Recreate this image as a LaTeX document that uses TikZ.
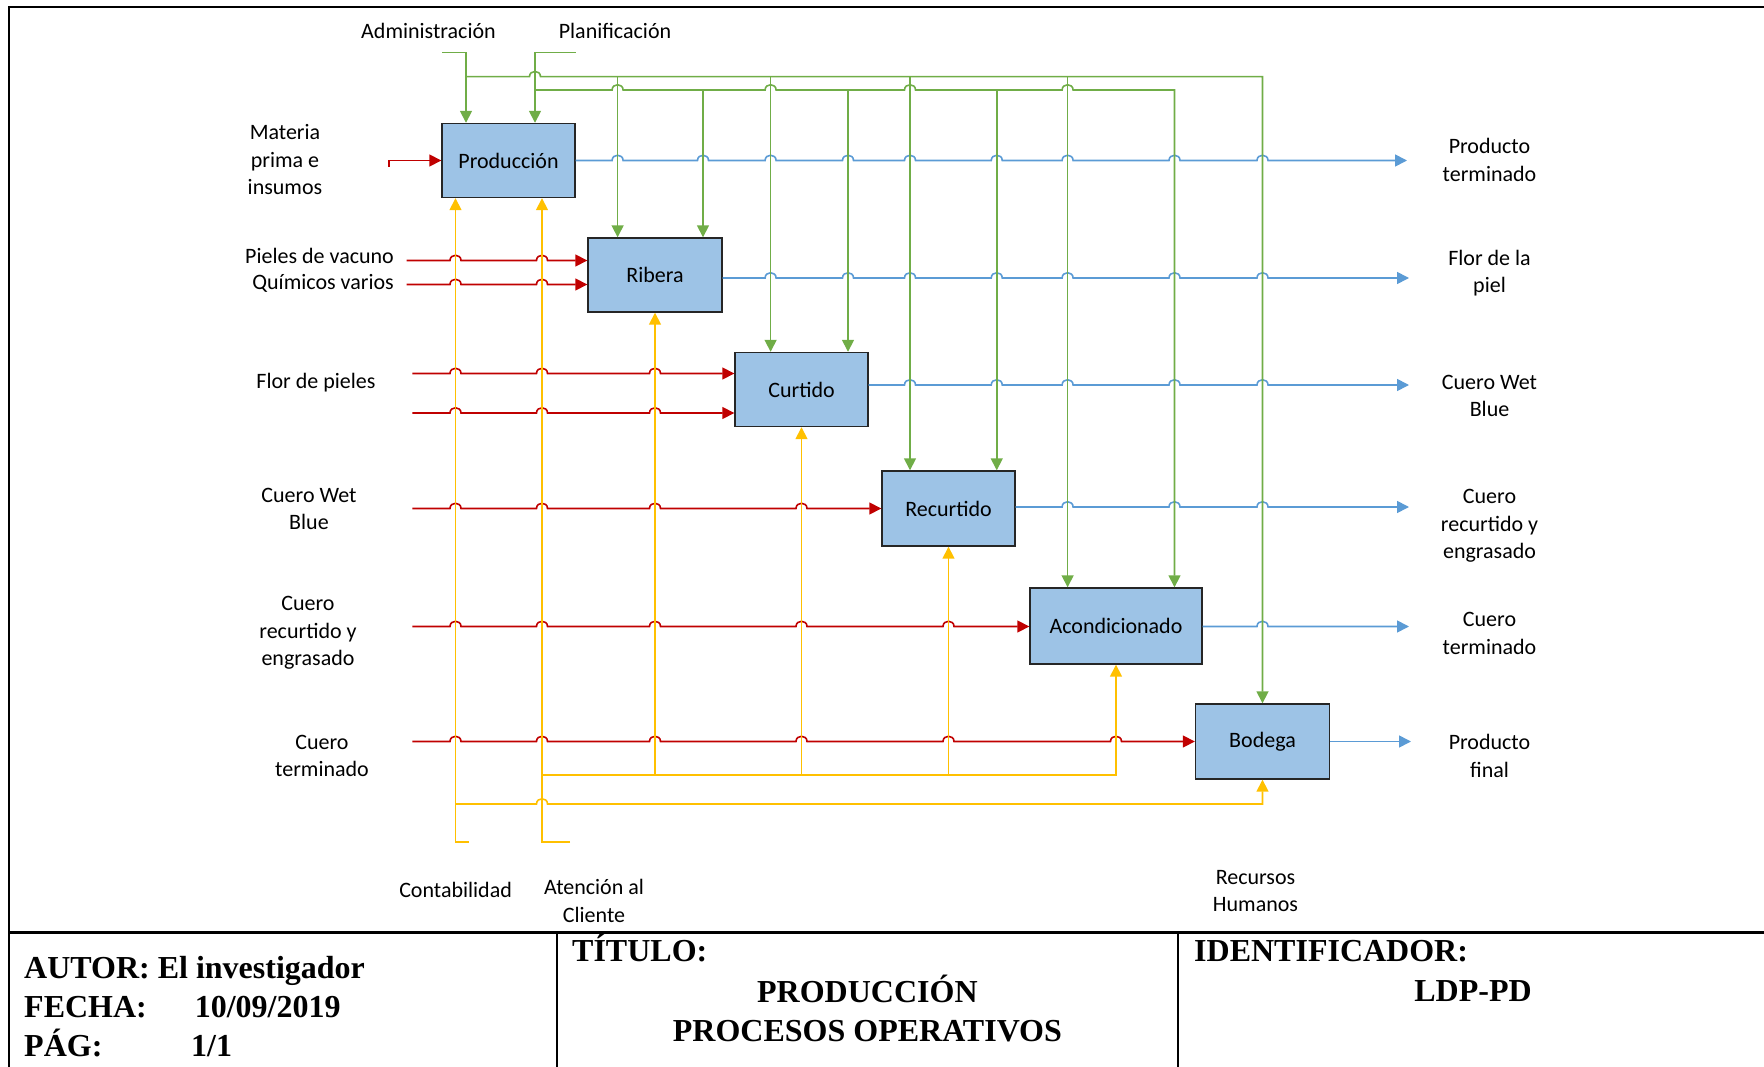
\documentclass[tikz,border=0pt]{standalone}
\usepackage{fontspec}
\setmainfont{Carlito}
\newfontfamily\tnrfont{Liberation Serif}
\usetikzlibrary{arrows.meta}
\definecolor{boxfill}{HTML}{9DC3E6}
\definecolor{lblue}{HTML}{5B9BD5}
\definecolor{lgreen}{HTML}{70AD47}
\definecolor{lyellow}{HTML}{FFC000}
\definecolor{lred}{HTML}{C00000}
\newcommand\lblfont{\fontsize{22}{27.5}\selectfont}
\newcommand\tblfont{\tnrfont\bfseries\fontsize{32}{38}\selectfont}
\begin{document}
\begin{tikzpicture}[x=1pt,y=-1pt,
  box/.style={draw=black!85, line width=1.4pt, fill=boxfill, minimum width=133pt, minimum height=74pt, inner sep=0pt, font=\lblfont},
  lbl/.style={font=\lblfont, align=center, inner sep=0pt},
  tbl/.style={font=\tblfont, inner sep=0pt},
  arr/.style={-{Triangle[length=12pt,width=12pt]}},
  rline/.style={draw=lred, line width=1.6pt},
  bline/.style={draw=lblue, line width=1.6pt},
  gline/.style={draw=lgreen, line width=1.6pt},
  yline/.style={draw=lyellow, line width=1.6pt},
  frame/.style={draw=black, line width=2.6pt}]
\useasboundingbox (0,0) rectangle (1764,1067);

% frame and table
\draw[frame] (1764,7) -- (9,7) -- (9,1067);
\draw[frame] (9,932.5) -- (1764,932.5);
\draw[frame] (557,932.5) -- (557,1067);
\draw[frame] (1178,932.5) -- (1178,1067);

% boxes
\node[box] (prod) at (508.5,160.5) {Producción};
\node[box, minimum width=134pt] (ribera) at (655,275) {Ribera};
\node[box] (curtido) at (801.5,389.5) {Curtido};
\node[box, minimum height=75pt] (recurtido) at (948.5,508.5) {Recurtido};
\node[box, minimum width=172pt, minimum height=76pt] (acond) at (1116,626) {Acondicionado};
\node[box, minimum width=134pt, minimum height=75pt] (bodega) at (1262.5,741.5) {Bodega};

% labels
\node[lbl] (ladm) at (428.5,31) {Administración};
\node[lbl] (lpla) at (615,31) {Planificación};
\node[lbl] (lmat) at (285,160) {Materia\\prima e\\insumos};
\node[lbl, anchor=base east] (lpie) at (394,264) {Pieles de vacuno};
\node[lbl, anchor=base east] (lqui) at (394,290) {Químicos varios};
\node[lbl, anchor=base] (lflo) at (316,388) {Flor de pieles};
\node[lbl] (lwb) at (309,509) {Cuero Wet\\Blue};
\node[lbl] (lrec) at (308,633) {Cuero\\recurtido y\\engrasado};
\node[lbl] (lter) at (322,756) {Cuero\\terminado};
\node[lbl] (opt) at (1489.5,160) {Producto\\terminado};
\node[lbl] (ofl) at (1489.5,273) {Flor de la\\piel};
\node[lbl] (owb) at (1489.5,396) {Cuero Wet\\Blue};
\node[lbl] (orec) at (1489.5,526) {Cuero\\recurtido y\\engrasado};
\node[lbl] (oter) at (1489.5,633.5) {Cuero\\terminado};
\node[lbl] (ofin) at (1489.5,756) {Producto\\final};
\node[lbl] (lcon) at (455.6,890) {Contabilidad};
\node[lbl] (lat) at (594,901) {Atención al\\Cliente};
\node[lbl] (lrh) at (1255.5,891) {Recursos\\Humanos};

% table texts
\node[tbl, anchor=base west] (t1) at (24,978) {AUTOR: El investigador};
\node[tbl, anchor=base west] (t2) at (24,1017) {FECHA:};
\node[tbl, anchor=base west] (t2b) at (194.6,1017) {10/09/2019};
\node[tbl, anchor=base west] (t3) at (24,1056) {PÁG:};
\node[tbl, anchor=base west] (t3b) at (191,1056) {1/1};
\node[tbl, anchor=base west] (t4) at (572,961) {TÍTULO:};
\node[tbl, anchor=base] (t5) at (867.4,1002.7) {PRODUCCIÓN};
\node[tbl, anchor=base] (t6) at (867.4,1041) {PROCESOS OPERATIVOS};
\node[tbl, anchor=base west] (t7) at (1194,961) {IDENTIFICADOR:};
\node[tbl, anchor=base] (t8) at (1473,1001) {LDP-PD};

% coordinates
\coordinate (m0) at (389,167);
\coordinate (r1) at (406.7,260.5);
\coordinate (r2) at (406.7,284.5);
\coordinate (r3) at (412.3,373.5);
\coordinate (r4) at (412.3,413);
\coordinate (r5) at (412.3,508.5);
\coordinate (r6) at (412.3,626.5);
\coordinate (r7) at (412.3,741.5);
\coordinate (o1) at (1407,160.5);
\coordinate (o2) at (1409,278);
\coordinate (o3) at (1409,385);
\coordinate (o4) at (1409,507);
\coordinate (o5) at (1409,626.5);
\coordinate (o6) at (1411,741.5);
\coordinate (ga) at (442,52.7);
\coordinate (gax) at (466,52.7);
\coordinate (gp) at (575.7,52.7);
\coordinate (gpx) at (535,52.7);
\coordinate (ah) at (466,76.7);
\coordinate (ph) at (535,90);
\coordinate (pe) at (1174.5,90);
\coordinate (ca) at (469,842);
\coordinate (cax) at (455.5,842);
\coordinate (aa) at (570,842);
\coordinate (aax) at (542,842);
\coordinate (ch) at (455.5,804);
\coordinate (ah2) at (542,775);

% red inputs
\draw[rline,arr] (m0) -- (m0 |- prod.west) -- (prod.west);
\draw[rline,arr] (r1) foreach \h in {455.5,542} { -- (\h-5.5,260.5) .. controls +(0,-7) and +(0,-7) .. (\h+5.5,260.5) } -- (r1 -| ribera.west);
\draw[rline,arr] (r2) foreach \h in {455.5,542} { -- (\h-5.5,284.5) .. controls +(0,-7) and +(0,-7) .. (\h+5.5,284.5) } -- (r2 -| ribera.west);
\draw[rline,arr] (r3) foreach \h in {455.5,542,655} { -- (\h-5.5,373.5) .. controls +(0,-7) and +(0,-7) .. (\h+5.5,373.5) } -- (r3 -| curtido.west);
\draw[rline,arr] (r4) foreach \h in {455.5,542,655} { -- (\h-5.5,413) .. controls +(0,-7) and +(0,-7) .. (\h+5.5,413) } -- (r4 -| curtido.west);
\draw[rline,arr] (r5) foreach \h in {455.5,542,655,801.5} { -- (\h-5.5,508.5) .. controls +(0,-7) and +(0,-7) .. (\h+5.5,508.5) } -- (r5 -| recurtido.west);
\draw[rline,arr] (r6) foreach \h in {455.5,542,655,801.5,948.5} { -- (\h-5.5,626.5) .. controls +(0,-7) and +(0,-7) .. (\h+5.5,626.5) } -- (r6 -| acond.west);
\draw[rline,arr] (r7) foreach \h in {455.5,542,655,801.5,948.5,1116} { -- (\h-5.5,741.5) .. controls +(0,-7) and +(0,-7) .. (\h+5.5,741.5) } -- (r7 -| bodega.west);

% blue outputs
\draw[bline,arr] (prod.east) foreach \h in {617.6,703,770.6,848,910,996.75,1067.6,1174.5,1262.5} { -- (\h-5.5,160.5) .. controls +(0,-7) and +(0,-7) .. (\h+5.5,160.5) } -- (o1);
\draw[bline,arr] (o2 -| ribera.east) foreach \h in {770.6,848,910,996.75,1067.6,1174.5,1262.5} { -- (\h-5.5,278) .. controls +(0,-7) and +(0,-7) .. (\h+5.5,278) } -- (o2);
\draw[bline,arr] (o3 -| curtido.east) foreach \h in {910,996.75,1067.6,1174.5,1262.5} { -- (\h-5.5,385) .. controls +(0,-7) and +(0,-7) .. (\h+5.5,385) } -- (o3);
\draw[bline,arr] (o4 -| recurtido.east) foreach \h in {1067.6,1174.5,1262.5} { -- (\h-5.5,507) .. controls +(0,-7) and +(0,-7) .. (\h+5.5,507) } -- (o4);
\draw[bline,arr] (o5 -| acond.east) foreach \h in {1262.5} { -- (\h-5.5,626.5) .. controls +(0,-7) and +(0,-7) .. (\h+5.5,626.5) } -- (o5);
\draw[bline,arr] (bodega.east) -- (o6);

% green controls
\draw[gline,arr] (ga) -- (gax) -- (gax |- prod.north);
\draw[gline,arr] (gp) -- (gpx) -- (gpx |- prod.north);
\draw[gline,arr] (ah) -- (529.5,76.7) .. controls +(0,-7) and +(0,-7) .. (540.5,76.7) -- (bodega.north |- ah) -- (bodega.north);
\draw[gline,arr] (ph) foreach \h in {617.6,770.6,910,1067.6} { -- (\h-5.5,90) .. controls +(0,-7) and +(0,-7) .. (\h+5.5,90) } -- (pe) -- (pe |- acond.north);
\foreach \x/\b in {617.6/ribera,770.6/curtido,910/recurtido,1067.6/acond} {
  \draw[gline,arr] (\x,76.7) -- (\x,76.7 |- \b.north);
}
\foreach \x/\b in {703/ribera,848/curtido,996.75/recurtido} {
  \draw[gline,arr] (\x,90) -- (\x,90 |- \b.north);
}

% yellow mechanisms
\draw[yline,arr] (ca) -- (cax) -- (cax |- prod.south);
\draw[yline,arr] (aa) -- (aax) -- (aax |- prod.south);
\draw[yline,arr] (ch) -- (536.5,804) .. controls +(0,-7) and +(0,-7) .. (547.5,804) -- (bodega.south |- ch) -- (bodega.south);
\draw[yline,arr] (ah2) -- (acond.south |- ah2) -- (acond.south);
\foreach \b in {ribera,curtido,recurtido} {
  \draw[yline,arr] (\b.south |- ah2) -- (\b.south);
}
\end{tikzpicture}
\end{document}
